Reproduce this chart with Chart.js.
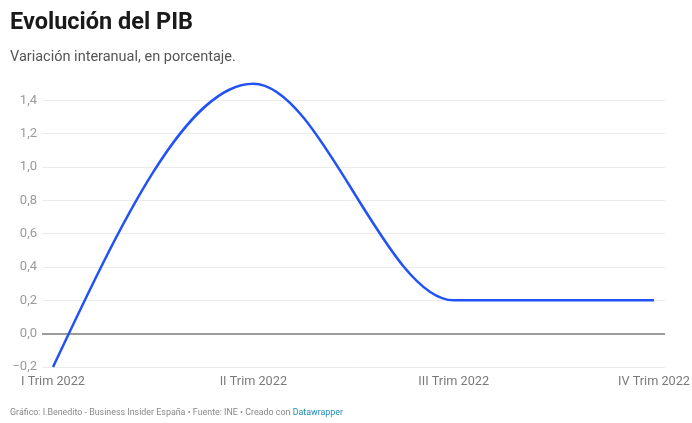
<!DOCTYPE html>
<html lang="es">
<head>
<meta charset="utf-8">
<title>Evolución del PIB</title>
<script src="https://cdn.jsdelivr.net/npm/chart.js@4.4.1/dist/chart.umd.min.js"></script>
<style>
  html, body { margin: 0; padding: 0; background: #fff; }
  body { width: 692px; height: 423px; position: relative; overflow: hidden; font-family: Roboto, "Noto Sans", sans-serif; }
  #chart-wrap { position: absolute; left: 0; top: 0; width: 692px; height: 423px; }
  .title { position: absolute; left: 10px; top: 7px; margin: 0; font-size: 23.5px; font-weight: 700; color: #1a1a1a; }
  .subtitle { position: absolute; left: 10px; top: 48px; margin: 0; font-size: 14.5px; color: #555; }
  .footer { position: absolute; left: 10px; top: 407px; margin: 0; font-size: 8.9px; color: #888; }
  .footer span { color: #1d8bb8; }
</style>
</head>
<body>
<div id="chart-wrap"><canvas id="pib-chart"></canvas></div>
<h1 class="title">Evolución del PIB</h1>
<p class="subtitle">Variación interanual, en porcentaje.</p>
<p class="footer">Gráfico: I.Benedito - Business Insider España • Fuente: INE • Creado con <span>Datawrapper</span></p>

<script>
const quarters = ["I Trim 2022", "II Trim 2022", "III Trim 2022", "IV Trim 2022"];
const gdpChange = [-0.2, 1.5, 0.2, 0.2];
const yTicks = [-0.2, 0, 0.2, 0.4, 0.6, 0.8, 1.0, 1.2, 1.4];

const fmt = v => v.toFixed(1).replace('.', ',').replace('-', '\u2212');

// monotoneX tangents (same rule as d3.curveMonotoneX) applied to the
// control points Chart.js already laid out on the pixel scale
const monotoneX = {
    id: 'monotoneX',
    beforeDatasetDraw(chart, args) {
        const line = args.meta.dataset;
        line.updateControlPoints(chart.chartArea, 'x');
        const pts = line.points;
        const n = pts.length;
        if (n < 3) return;
        const sign = v => v < 0 ? -1 : 1;
        const t = new Array(n).fill(0);
        for (let i = 1; i < n - 1; i++) {
            const h0 = pts[i].x - pts[i - 1].x, h1 = pts[i + 1].x - pts[i].x;
            const s0 = (pts[i].y - pts[i - 1].y) / h0, s1 = (pts[i + 1].y - pts[i].y) / h1;
            const p = (s0 * h1 + s1 * h0) / (h0 + h1);
            t[i] = (sign(s0) + sign(s1)) * Math.min(Math.abs(s0), Math.abs(s1), 0.5 * Math.abs(p)) || 0;
        }
        const h0 = pts[1].x - pts[0].x;
        t[0] = (3 * (pts[1].y - pts[0].y) / h0 - t[1]) / 2;
        const hn = pts[n - 1].x - pts[n - 2].x;
        t[n - 1] = (3 * (pts[n - 1].y - pts[n - 2].y) / hn - t[n - 2]) / 2;
        for (let i = 0; i < n; i++) {
            const pt = pts[i];
            if (i > 0) {
                const dx = (pt.x - pts[i - 1].x) / 3;
                pt.cp1x = pt.x - dx;
                pt.cp1y = pt.y - dx * t[i];
            }
            if (i < n - 1) {
                const dx = (pts[i + 1].x - pt.x) / 3;
                pt.cp2x = pt.x + dx;
                pt.cp2y = pt.y + dx * t[i];
            }
        }
    }
};

const ctx = document.getElementById("pib-chart");

new Chart(ctx, {
    type: 'line',
    data: {
        datasets: [{
            label: 'PIB',
            data: gdpChange.map((v, i) => ({ x: i, y: v })),
            borderColor: '#2152f7',
            borderWidth: 2.5,
            pointRadius: 0,
            fill: false,
            cubicInterpolationMode: 'monotone',
            clip: false
        }]
    },
    options: {
        responsive: true,
        maintainAspectRatio: false,
        animation: false,
        layout: { padding: { top: 82, right: 27, bottom: 32, left: 0 } },
        plugins: {
            legend: { display: false },
            tooltip: { enabled: false }
        },
        scales: {
            x: {
                type: 'linear',
                min: -0.055,
                max: 3.055,
                afterBuildTicks: scale => {
                    scale.ticks = quarters.map((q, i) => ({ value: i }));
                },
                afterFit: scale => {
                    scale.height = 24;
                    scale.paddingLeft = 0;
                    scale.paddingRight = 0;
                },
                grid: { display: false, drawTicks: false },
                border: { display: false },
                ticks: {
                    padding: 7,
                    maxRotation: 0,
                    autoSkip: false,
                    color: '#7a7a7a',
                    font: { family: 'Roboto', size: 12.7 },
                    callback: value => quarters[value]
                }
            },
            y: {
                min: -0.2,
                max: 1.51,
                afterBuildTicks: scale => {
                    scale.ticks = yTicks.map(v => ({ value: v }));
                },
                afterFit: scale => { scale.width = 42; },
                border: { display: false },
                grid: {
                    drawTicks: false,
                    color: c => c.tick.value === 0 ? '#9b9b9b' : '#ebebeb',
                    lineWidth: c => c.tick.value === 0 ? 2 : 1
                },
                ticks: {
                    padding: 5,
                    color: '#9a9a9a',
                    font: { family: 'Roboto', size: 13 },
                    callback: value => fmt(value)
                }
            }
        }
    },
    plugins: [monotoneX]
});
</script>
</body>
</html>
